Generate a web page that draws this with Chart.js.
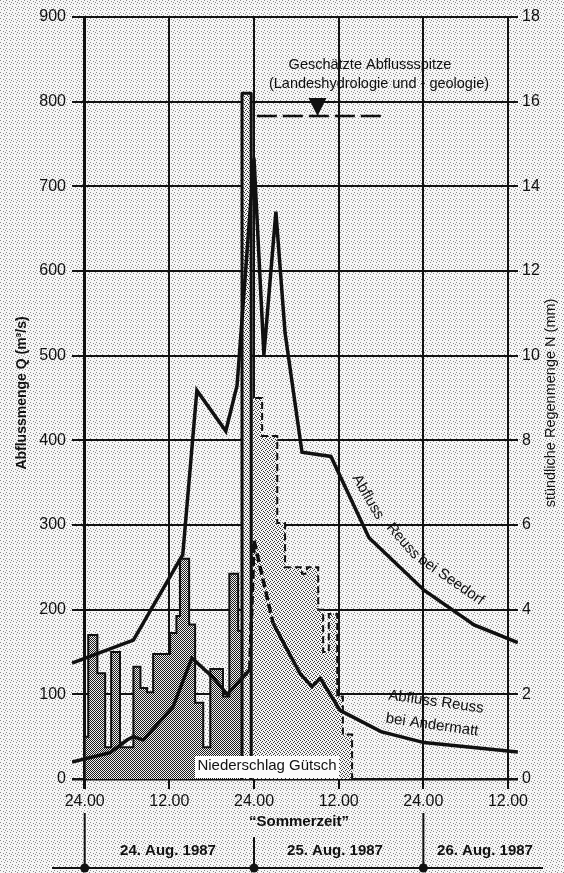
<!DOCTYPE html>
<html>
<head>
<meta charset="utf-8">
<script src="https://cdn.jsdelivr.net/npm/chart.js@4.4.1/dist/chart.umd.min.js"></script>
<style>
  html, body { margin: 0; padding: 0; background: #e6e6e6; }
  #wrap { width: 564px; height: 873px; }
</style>
</head>
<body>
<div id="wrap"><canvas id="chart" width="564" height="873"></canvas></div>
<script>
// x = hours after 24.00 (night 23./24. Aug 1987), y = discharge Q in m3/s
const seedorfHours = [-1.8, 6.9, 13.9, 15.9, 20.0, 21.6, 24.0, 25.4, 27.1, 28.4, 30.8, 34.9, 40.3, 48.1, 55.2, 61.4];
const seedorfQ = [137, 164, 265, 459, 411, 465, 733, 501, 670, 527, 386, 381, 285, 223, 182, 161];

const andermattHours = [-1.8, 3.6, 6.0, 6.9, 8.3, 12.5, 15.2, 18.2, 20.2, 23.4, 24.0, 26.7, 30.5, 32.2, 33.4, 36.2, 42.0, 48.1, 61.4];
const andermattQ = [20, 31, 46, 50, 46, 85, 143, 120, 100, 129, 282, 184, 125, 109, 119, 81, 56, 43, 32];
// part of the Andermatt curve drawn dashed
const andermattDashFrom = 23.4;
const andermattDashTo = 26.7;

// rain at Gütsch (mm per hour); each value holds from its hour to the next one
const rainHours = [0.0, 0.5, 1.8, 2.9, 3.75, 5.0, 6.9, 7.9, 8.85, 9.7, 12.1, 13.0, 13.5, 14.8, 15.65, 16.8, 17.8, 19.6, 20.5, 21.75, 22.3];
const rainMm = [1.0, 3.4, 2.5, 0.75, 3.0, 0.75, 2.65, 2.15, 2.05, 2.95, 3.45, 3.85, 5.2, 3.65, 1.8, 0.75, 2.6, 1.95, 4.85, 3.5, 0];
const rainPeakHours = [22.3, 23.6];
const rainPeakMm = [16.2, 0];
const rainLateHours = [23.6, 25.15, 27.3, 28.4, 30.8, 31.5, 33.1, 33.8, 34.6, 35.8, 36.6, 37.9];
const rainLateMm = [9.0, 8.1, 6.05, 5.0, 4.85, 5.0, 4.0, 3.0, 3.9, 1.95, 1.05, 0];

// estimated peak discharge (Landeshydrologie und -geologie)
const peakEstHours = [24.4, 42.0];
const peakEstQ = [783, 783];
const peakMarkHour = 33.0;

const xTicks = [0, 12, 24, 36, 48, 60];

const canvas = document.getElementById("chart");
const ctx = canvas.getContext("2d");

function makePattern(size, bg, dots, dotColor) {
  const c = document.createElement("canvas");
  c.width = size;
  c.height = size;
  const g = c.getContext("2d");
  g.fillStyle = bg;
  g.fillRect(0, 0, size, size);
  g.fillStyle = dotColor;
  dots.forEach(([x, y]) => g.fillRect(x, y, 1, 1));
  return ctx.createPattern(c, "repeat");
}

const darkFill = makePattern(2, "#f0f0f0", [[0, 0], [1, 1]], "#1a1a1a");
const lightFill = makePattern(4, "#f2f2f2", [[0, 0], [2, 1], [1, 2], [3, 3]], "#333");
const paperFill = makePattern(6, "#f5f5f5", [[0, 0], [3, 1], [1, 3], [4, 4], [5, 2]], "#8a8a8a");

function points(hours, vals) {
  return hours.map((h, i) => ({ x: h, y: vals[i] }));
}

// closed step outline: starts on the zero line
function stepPoints(hours, vals) {
  return [{ x: hours[0], y: 0 }].concat(points(hours, vals));
}

function rotText(c, text, x, y, deg) {
  c.save();
  c.translate(x, y);
  c.rotate((deg * Math.PI) / 180);
  c.fillText(text, 0, 0);
  c.restore();
}

const extras = {
  id: "extras",
  beforeDraw(chart) {
    const c = chart.ctx;
    c.save();
    c.fillStyle = paperFill;
    c.fillRect(0, 0, chart.width, chart.height);
    c.restore();
  },
  afterDatasetsDraw(chart) {
    const c = chart.ctx;
    c.save();
    // label box for the rain series
    c.fillStyle = "#fbfbfb";
    c.fillRect(195, 756, 144, 22);
    c.fillStyle = "#111";
    c.font = "15px 'Liberation Sans'";
    c.textAlign = "center";
    c.textBaseline = "middle";
    c.fillText("Niederschlag Gütsch", 267, 766);
    c.restore();
  },
  afterDraw(chart) {
    const c = chart.ctx;
    const xs = chart.scales.x;
    const ys = chart.scales.y;
    c.save();
    c.fillStyle = "#111";
    c.strokeStyle = "#111";
    c.textAlign = "center";
    c.textBaseline = "middle";

    // axis titles
    c.font = "bold 14px 'Liberation Sans'";
    rotText(c, "Abflussmenge Q (m³/s)", 22, 393, -90);
    c.font = "14.5px 'Liberation Sans'";
    rotText(c, "stündliche Regenmenge N (mm)", 551, 403, -90);

    // estimated peak note and marker
    c.font = "14.5px 'Liberation Sans'";
    c.fillText("Geschätzte Abflussspitze", 370, 65);
    c.fillText("(Landeshydrologie und - geologie)", 379, 84);
    const tx = xs.getPixelForValue(peakMarkHour);
    const ty = ys.getPixelForValue(peakEstQ[0]);
    c.beginPath();
    c.moveTo(tx, ty);
    c.lineTo(tx - 9, ty - 18);
    c.lineTo(tx + 9, ty - 18);
    c.closePath();
    c.fill();

    // curve labels, following the bend of the Seedorf curve
    c.font = "15px 'Liberation Sans'";
    rotText(c, "Abfluss", 368, 497, 60);
    rotText(c, "Reuss", 403, 541, 49);
    rotText(c, "bei Seedorf", 451, 580, 35);
    rotText(c, "Abfluss Reuss", 436, 702, 8);
    rotText(c, "bei Andermatt", 432, 725, 8);

    // time zone note and date strip
    c.font = "bold 15px 'Liberation Sans'";
    c.fillText("\u201CSommerzeit\u201D", 299, 822);
    c.fillText("24. Aug. 1987", 168, 851);
    c.fillText("25. Aug. 1987", 335, 851);
    c.fillText("26. Aug. 1987", 485, 851);

    c.lineWidth = 2;
    c.beginPath();
    c.moveTo(52, 868);
    c.lineTo(543, 868);
    c.stroke();
    [0, 24, 48].forEach((h) => {
      const px = xs.getPixelForValue(h);
      c.beginPath();
      c.moveTo(px, h === 24 ? 837 : 813);
      c.lineTo(px, 868);
      c.stroke();
      c.beginPath();
      c.arc(px, 868, 4.5, 0, Math.PI * 2);
      c.fill();
    });
    c.restore();
  },
};

new Chart(ctx, {
  type: "line",
  data: {
    datasets: [
      {
        label: "Abfluss Reuss bei Seedorf",
        data: points(seedorfHours, seedorfQ),
        yAxisID: "y",
        borderColor: "#111",
        borderWidth: 3.5,
        pointRadius: 0,
        fill: false,
        order: 1,
      },
      {
        label: "Abfluss Reuss bei Andermatt",
        data: points(andermattHours, andermattQ),
        yAxisID: "y",
        borderColor: "#111",
        borderWidth: 3.5,
        pointRadius: 0,
        fill: false,
        order: 1,
        segment: {
          borderDash: (s) =>
            s.p0.parsed.x >= andermattDashFrom && s.p1.parsed.x <= andermattDashTo ? [9, 4] : undefined,
        },
      },
      {
        label: "Geschätzte Abflussspitze",
        data: points(peakEstHours, peakEstQ),
        yAxisID: "y",
        borderColor: "#111",
        borderWidth: 2.5,
        borderDash: [20, 6],
        pointRadius: 0,
        fill: false,
        order: 1,
      },
      {
        label: "Niederschlag Gütsch (Spitze)",
        data: stepPoints(rainPeakHours, rainPeakMm),
        yAxisID: "y2",
        stepped: true,
        borderColor: "#111",
        borderWidth: 3,
        borderJoinStyle: "round",
        backgroundColor: lightFill,
        fill: "origin",
        pointRadius: 0,
        order: 2,
      },
      {
        label: "Niederschlag Gütsch",
        data: stepPoints(rainHours, rainMm),
        yAxisID: "y2",
        stepped: true,
        borderColor: "#111",
        borderWidth: 2,
        backgroundColor: darkFill,
        fill: "origin",
        pointRadius: 0,
        order: 3,
      },
      {
        label: "Niederschlag Gütsch (spät)",
        data: stepPoints(rainLateHours, rainLateMm),
        yAxisID: "y2",
        stepped: true,
        borderColor: "#111",
        borderWidth: 2,
        borderDash: [7, 4],
        backgroundColor: lightFill,
        fill: "origin",
        pointRadius: 0,
        order: 4,
      },
    ],
  },
  options: {
    responsive: false,
    animation: false,
    layout: { padding: { top: 17 } },
    plugins: { legend: { display: false }, tooltip: { enabled: false } },
    scales: {
      x: {
        type: "linear",
        min: -1.8,
        max: 61.42,
        afterBuildTicks: (scale) => {
          scale.ticks = xTicks.map((v) => ({ value: v }));
        },
        afterFit: (scale) => {
          scale.height = 94;
        },
        border: { display: false },
        grid: {
          color: "#111",
          lineWidth: (g) => (g.tick && g.tick.value === 0 ? 3 : 2),
          tickLength: 10,
        },
        ticks: {
          color: "#111",
          font: { family: "'Liberation Sans'", size: 16 },
          padding: 3,
          maxRotation: 0,
          callback: (v) => (v % 24 === 0 ? "24.00" : "12.00"),
        },
      },
      y: {
        position: "left",
        min: 0,
        max: 900,
        afterFit: (scale) => {
          scale.width = 72;
        },
        border: { display: false },
        grid: {
          color: "#111",
          lineWidth: (g) => (g.tick && g.tick.value === 0 ? 2.5 : 2),
          drawTicks: false,
        },
        ticks: {
          stepSize: 100,
          color: "#111",
          font: { family: "'Liberation Sans'", size: 16 },
          padding: 6,
        },
      },
      y2: {
        position: "right",
        min: 0,
        max: 18,
        afterFit: (scale) => {
          scale.width = 46;
        },
        border: { display: false },
        grid: { drawOnChartArea: false, drawTicks: false },
        ticks: {
          stepSize: 2,
          color: "#111",
          font: { family: "'Liberation Sans'", size: 16 },
          padding: 4,
        },
      },
    },
  },
  plugins: [extras],
});
</script>
</body>
</html>
